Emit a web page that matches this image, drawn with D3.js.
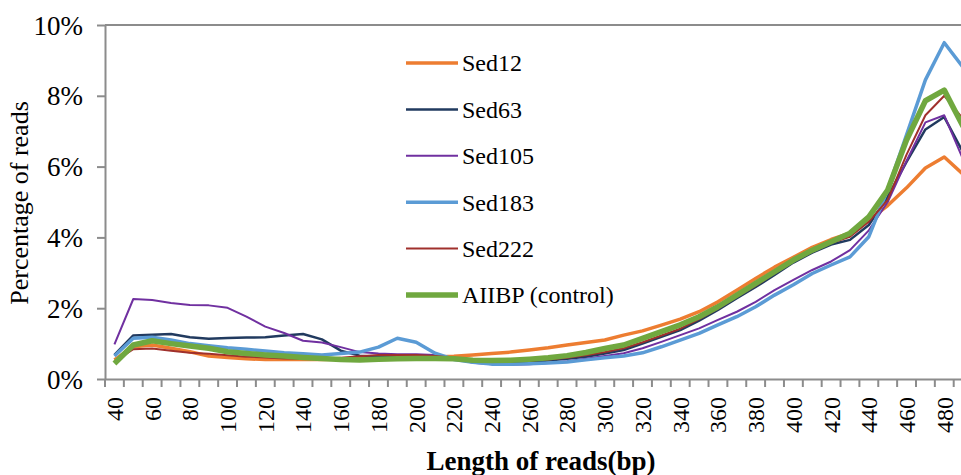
<!DOCTYPE html>
<html>
<head>
<meta charset="utf-8">
<script src="https://cdn.jsdelivr.net/npm/d3@7"></script>
<style>
	body { margin: 0; background: #fff; }
	text { font-family: "Liberation Serif", "Times New Roman", serif; fill: #000; }
</style>
</head>
<body>
<div id="chart-area"></div>
<script>
// read lengths (bp), one point every 10 bp
let lengths = d3.range(40, 500, 10);
let labelLengths = d3.range(40, 500, 20);
let yTicks = [0, 0.02, 0.04, 0.06, 0.08, 0.10];

let seriesNames = ["Sed12", "Sed63", "Sed105", "Sed183", "Sed222", "AIIBP (control)"];

// percentage of reads (%)
let sed12 = [0.54, 0.91, 0.96, 0.87, 0.77, 0.65, 0.61, 0.57, 0.55, 0.55, 0.55, 0.55, 0.56, 0.58, 0.60, 0.60,
	0.60, 0.62, 0.64, 0.68, 0.72, 0.76, 0.82, 0.88, 0.96, 1.03, 1.10, 1.24, 1.36, 1.52, 1.69, 1.90,
	2.18, 2.51, 2.84, 3.16, 3.44, 3.72, 3.94, 4.12, 4.49, 4.90, 5.40, 5.96, 6.27, 5.78];
let sed63 = [0.68, 1.23, 1.25, 1.27, 1.18, 1.14, 1.16, 1.17, 1.18, 1.23, 1.27, 1.12, 0.80, 0.66, 0.62, 0.62,
	0.62, 0.61, 0.58, 0.50, 0.47, 0.46, 0.48, 0.52, 0.57, 0.63, 0.72, 0.82, 1.00, 1.19, 1.38, 1.65,
	1.95, 2.28, 2.60, 2.94, 3.29, 3.57, 3.80, 3.93, 4.35, 5.15, 6.13, 7.05, 7.40, 6.40];
let sed105 = [0.98, 2.26, 2.23, 2.15, 2.09, 2.08, 2.01, 1.76, 1.48, 1.30, 1.08, 1.03, 0.90, 0.76, 0.72, 0.70,
	0.70, 0.68, 0.58, 0.46, 0.42, 0.40, 0.42, 0.45, 0.50, 0.57, 0.65, 0.73, 0.87, 1.05, 1.24, 1.43,
	1.67, 1.90, 2.18, 2.51, 2.80, 3.08, 3.32, 3.64, 4.20, 5.00, 6.16, 7.25, 7.45, 6.20];
let sed183 = [0.65, 1.15, 1.18, 1.10, 1.00, 0.94, 0.88, 0.84, 0.79, 0.74, 0.71, 0.68, 0.72, 0.76, 0.90, 1.15,
	1.04, 0.73, 0.55, 0.47, 0.42, 0.42, 0.43, 0.45, 0.48, 0.54, 0.60, 0.65, 0.74, 0.91, 1.10, 1.29,
	1.53, 1.76, 2.04, 2.37, 2.66, 2.98, 3.22, 3.45, 4.02, 5.35, 6.90, 8.45, 9.50, 8.80];
let sed222 = [0.49, 0.84, 0.86, 0.80, 0.74, 0.71, 0.67, 0.63, 0.61, 0.58, 0.57, 0.57, 0.60, 0.64, 0.68, 0.68,
	0.68, 0.65, 0.60, 0.55, 0.52, 0.50, 0.52, 0.55, 0.60, 0.67, 0.76, 0.87, 1.04, 1.23, 1.42, 1.69,
	1.99, 2.32, 2.64, 2.98, 3.32, 3.60, 3.84, 4.02, 4.44, 5.06, 6.34, 7.45, 8.00, 7.35];
let aiibp = [0.44, 0.96, 1.08, 1.00, 0.93, 0.87, 0.77, 0.72, 0.68, 0.65, 0.61, 0.58, 0.55, 0.54, 0.56, 0.57,
	0.58, 0.58, 0.57, 0.53, 0.52, 0.53, 0.56, 0.60, 0.66, 0.75, 0.86, 0.96, 1.15, 1.34, 1.53, 1.76,
	2.04, 2.37, 2.70, 3.03, 3.36, 3.64, 3.88, 4.12, 4.58, 5.34, 6.75, 7.86, 8.16, 7.13];

let seriesValues = [sed12, sed63, sed105, sed183, sed222, aiibp];
let colors = ["#ed7d31", "#213a5f", "#7030a0", "#5b9bd5", "#a0302c", "#70a83f"];
let strokeWidths = [3.5, 2.5, 2, 3.5, 2, 5.5];

let width = 961,
	height = 475;
let margin = {top: 25, bottom: 96, left: 105};
let bandWidth = 18.86;
let serif = "'Liberation Serif', 'Times New Roman', serif";

let svg = d3.select("#chart-area").append("svg")
	.attr("width", width)
	.attr("height", height);

let x = d3.scaleBand()
	.domain(lengths)
	.range([margin.left, margin.left + bandWidth * lengths.length]);

let y = d3.scaleLinear()
	.domain([0, 0.10])
	.range([height - margin.bottom, margin.top]);

let axisColor = "#8c8c8c";

// top line at 10%
svg.append("line")
	.attr("x1", margin.left)
	.attr("x2", x.range()[1])
	.attr("y1", y(0.10))
	.attr("y2", y(0.10))
	.attr("stroke", axisColor)
	.attr("stroke-width", 2);

let yaxis = d3.axisLeft(y)
	.tickValues(yTicks)
	.tickFormat(d3.format(".0%"))
	.tickSize(8)
	.tickSizeOuter(0)
	.tickPadding(14);

let gy = svg.append("g")
	.attr("class", "y-axis axis")
	.attr("transform", "translate(" + margin.left + ",0)")
	.call(yaxis)
	.attr("font-family", null)
	.attr("font-size", null);
gy.selectAll("path, line").attr("stroke", axisColor).attr("stroke-width", 2);
gy.selectAll("text")
	.style("font-family", serif)
	.style("font-size", "27px")
	.attr("dy", "0.34em");

let xaxis = d3.axisBottom(x)
	.tickValues(labelLengths)
	.tickSize(0)
	.tickSizeOuter(0);

let gx = svg.append("g")
	.attr("class", "x-axis axis")
	.attr("transform", "translate(0," + y(0) + ")")
	.call(xaxis)
	.attr("font-family", null)
	.attr("font-size", null);
gx.select("path").attr("stroke", axisColor).attr("stroke-width", 2);
gx.selectAll("text")
	.style("font-family", serif)
	.style("font-size", "24px")
	.attr("text-anchor", "end")
	.attr("transform", "rotate(-90)")
	.attr("x", -18)
	.attr("y", 0)
	.attr("dy", "0.35em");

// tick marks between categories
gx.selectAll(".bound")
	.data(lengths.concat(["end"]))
	.enter()
	.append("line")
	.attr("class", "bound")
	.attr("x1", d => d === "end" ? x.range()[1] : x(d))
	.attr("x2", d => d === "end" ? x.range()[1] : x(d))
	.attr("y1", 0)
	.attr("y2", 8)
	.attr("stroke", axisColor)
	.attr("stroke-width", 2);

let line = d3.line()
	.x((d, i) => x(lengths[i]) + x.bandwidth() / 2)
	.y(d => y(d / 100));

svg.selectAll(".series")
	.data(seriesValues)
	.enter()
	.append("path")
	.attr("class", "series")
	.attr("fill", "none")
	.attr("stroke", (d, i) => colors[i])
	.attr("stroke-width", (d, i) => strokeWidths[i])
	.attr("stroke-linejoin", "round")
	.attr("d", d => line(d));

// legend
let legend = svg.append("g")
	.attr("transform", "translate(406,63)");

let items = legend.selectAll("g")
	.data(seriesNames)
	.enter()
	.append("g")
	.attr("transform", (d, i) => "translate(0," + (i * 46.4) + ")");

items.append("line")
	.attr("x1", 0)
	.attr("x2", 52)
	.attr("stroke", (d, i) => colors[i])
	.attr("stroke-width", (d, i) => strokeWidths[i]);

items.append("text")
	.attr("x", 56)
	.attr("dy", "0.35em")
	.style("font-size", "24px")
	.text(d => d);

svg.append("text")
	.attr("transform", "rotate(-90)")
	.attr("x", -203)
	.attr("y", 28)
	.attr("text-anchor", "middle")
	.style("font-size", "26px")
	.text("Percentage of reads");

svg.append("text")
	.attr("x", 541)
	.attr("y", 470)
	.attr("text-anchor", "middle")
	.style("font-size", "27px")
	.style("font-weight", "bold")
	.text("Length of reads(bp)");
</script>
</body>
</html>
